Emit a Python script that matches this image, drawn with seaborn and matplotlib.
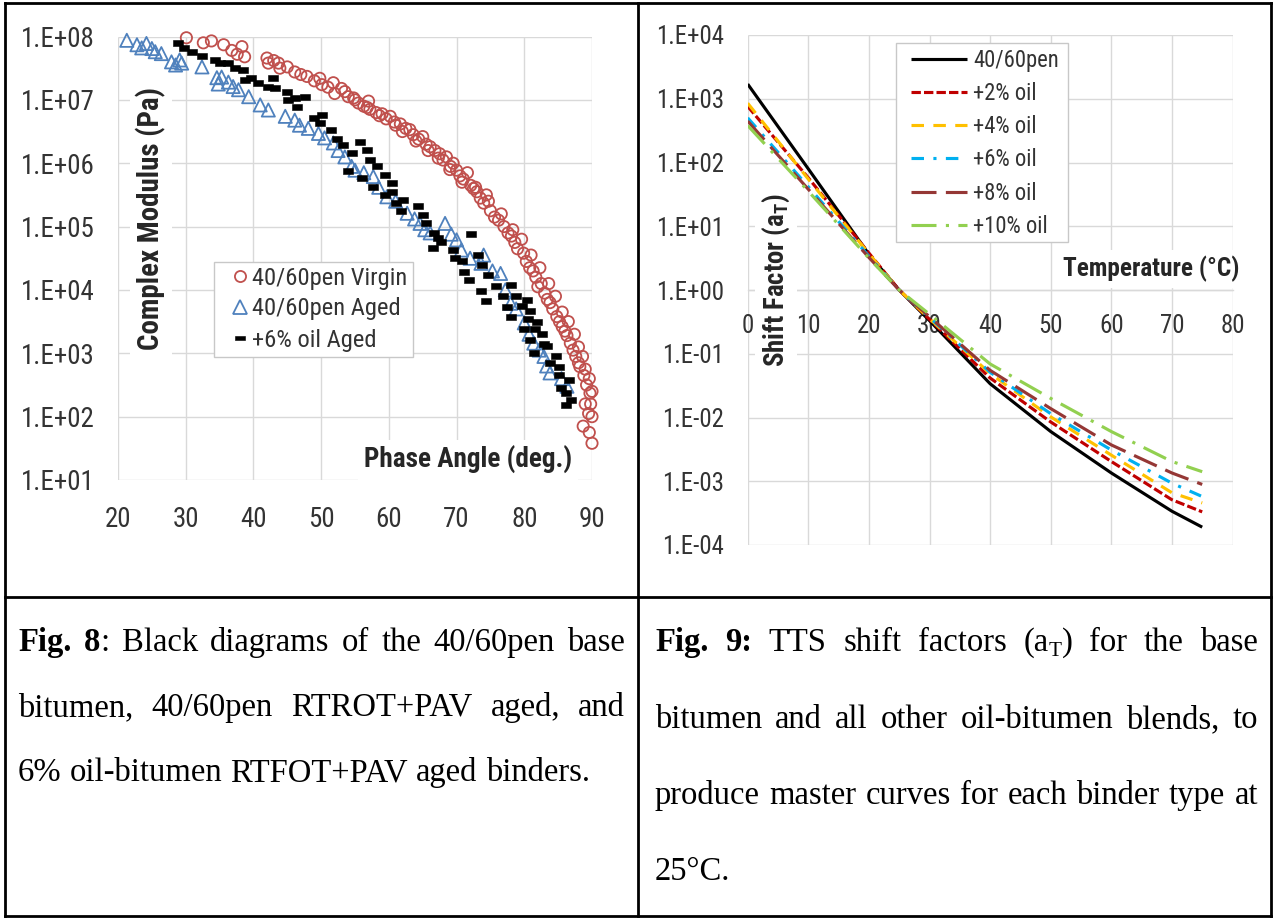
import numpy as np
import pandas as pd
import matplotlib
matplotlib.use("Agg")
import matplotlib.pyplot as plt
import seaborn as sns
from matplotlib import font_manager
from matplotlib.lines import Line2D
from matplotlib.patches import Rectangle
from matplotlib.ticker import FixedLocator, FuncFormatter, NullLocator

# ---------------------------------------------------------------- Fig. 8 data
# Black diagram: phase angle (deg) and log10 of complex modulus (Pa)
virgin_phase = [30.1, 32.6, 33.8, 35.6, 36.8, 37.6, 38.3, 38.7, 42.0, 42.2, 43.0, 43.7,
                43.9, 45.0, 46.1, 47.0, 47.9, 49.0, 49.8, 50.1, 51.0, 51.8, 52.0, 53.5,
                54.0, 54.8, 55.5, 56.3, 57.0, 57.2, 58.1, 59.0, 59.6, 60.2, 61.0, 61.7,
                62.5, 63.1, 63.6, 64.4, 65.0, 65.5, 66.1, 66.8, 67.5, 68.0, 68.5, 69.1,
                69.5, 70.0, 70.5, 71.0, 71.6, 72.1, 72.5, 73.0, 73.5, 74.0, 74.4, 75.0,
                75.6, 76.2, 77.0, 77.6, 78.1, 78.6, 79.0, 79.9, 80.3, 80.8, 81.3, 81.7,
                82.0, 82.5, 83.0, 83.4, 83.8, 84.2, 84.8, 85.2, 85.6, 86.0, 86.3, 86.8,
                87.2, 87.6, 88.0, 88.2, 88.8, 89.2, 89.7, 89.0, 89.5, 88.7, 89.6, 90.0,
                53.0, 55.0, 56.8, 58.6, 60.8, 62.0, 64.0, 65.8, 67.3, 69.0, 70.8, 72.8,
                74.7, 76.6, 78.3, 79.6, 81.0, 82.3, 83.6, 84.6, 85.6, 86.5, 87.4, 88.0,
                88.6, 89.0, 89.6, 90.0, 89.8, 90.0]
virgin_logG = [7.98, 7.90, 7.93, 7.87, 7.78, 7.72, 7.84, 7.68, 7.66, 7.58, 7.62, 7.58,
               7.50, 7.52, 7.44, 7.40, 7.37, 7.30, 7.34, 7.24, 7.20, 7.27, 7.10, 7.13,
               7.05, 7.03, 6.95, 6.90, 6.98, 6.85, 6.80, 6.78, 6.70, 6.74, 6.60, 6.62,
               6.55, 6.53, 6.45, 6.38, 6.42, 6.30, 6.26, 6.20, 6.15, 6.05, 6.10, 5.95,
               6.00, 5.89, 5.80, 5.75, 5.85, 5.65, 5.60, 5.55, 5.45, 5.37, 5.50, 5.25,
               5.15, 5.10, 5.00, 4.90, 4.85, 4.75, 4.65, 4.58, 4.45, 4.35, 4.30, 4.20,
               4.05, 4.10, 3.95, 3.85, 3.80, 3.70, 3.58, 3.50, 3.42, 3.35, 3.28, 3.16,
               3.05, 2.95, 2.85, 2.79, 2.65, 2.50, 2.37, 2.20, 2.05, 1.85, 1.75, 1.58,
               7.18, 7.00, 6.88, 6.75, 6.65, 6.50, 6.35, 6.20, 6.08, 5.90, 5.70, 5.62,
               5.40, 5.20, 4.95, 4.80, 4.55, 4.35, 4.10, 3.90, 3.65, 3.50, 3.30, 3.10,
               2.95, 2.75, 2.60, 2.40, 2.20, 2.00]

aged_phase = [21.3, 22.8, 23.5, 24.2, 25.0, 25.5, 26.4, 27.9, 28.5, 29.1, 29.4, 32.4,
              34.6, 35.3, 34.8, 36.3, 37.0, 37.8, 39.3, 41.0, 42.2, 44.7, 46.1, 46.8,
              48.1, 49.6, 50.5, 51.8, 52.5, 53.5, 54.5, 55.0, 56.3, 57.7, 58.5, 59.7,
              61.0, 62.7, 63.8, 64.6, 65.3, 66.1, 68.3, 69.2, 70.0, 70.7, 72.0, 73.6,
              74.0, 75.3, 76.5, 77.2, 78.0, 78.8, 80.0, 80.7, 81.4, 82.2, 82.9, 83.3,
              83.8, 85.5, 86.3]
aged_logG = [7.94, 7.87, 7.82, 7.89, 7.81, 7.76, 7.73, 7.60, 7.55, 7.63, 7.58, 7.52,
             7.35, 7.36, 7.25, 7.28, 7.21, 7.16, 7.05, 6.92, 6.84, 6.74, 6.68, 6.60,
             6.55, 6.47, 6.40, 6.32, 6.20, 6.10, 5.95, 5.89, 5.85, 5.79, 5.62, 5.47,
             5.40, 5.21, 5.12, 5.05, 4.95, 4.90, 5.05, 4.88, 4.79, 4.63, 4.50, 4.42,
             4.55, 4.30, 4.26, 4.00, 3.79, 3.70, 3.48, 3.30, 3.16, 3.05, 2.95, 2.80,
             2.69, 2.60, 2.48]

oil6_phase = [28.9, 29.7, 30.9, 32.4, 34.3, 35.1, 36.3, 37.3, 38.5, 38.8, 39.7, 40.7,
              42.2, 43.2, 42.9, 44.9, 45.1, 46.1, 46.4, 47.6, 48.9, 50.1, 49.8, 51.5,
              52.3, 53.3, 54.5, 54.0, 55.8, 56.7, 57.2, 56.0, 57.7, 58.2, 59.4, 59.4,
              60.4, 60.4, 61.1, 62.1, 61.8, 64.3, 65.0, 65.5, 66.7, 67.2, 67.7, 66.5,
              69.4, 69.7, 72.1, 73.1, 70.8, 71.1, 71.8, 73.8, 74.6, 73.6, 74.3, 75.8,
              78.0, 76.8, 77.5, 78.0, 78.8, 79.7, 80.4, 80.9, 80.6, 79.9, 81.6, 81.9,
              82.6, 80.9, 81.4, 82.9, 83.4, 83.8, 84.7, 85.1, 85.1, 86.6, 85.4, 86.2,
              86.9, 86.2]
oil6_logG = [7.89, 7.82, 7.76, 7.69, 7.63, 7.58, 7.58, 7.50, 7.47, 7.31, 7.34, 7.26,
             7.21, 7.18, 7.34, 7.13, 7.00, 7.03, 6.89, 7.05, 6.71, 6.76, 6.63, 6.53,
             6.39, 6.29, 6.16, 5.87, 6.33, 6.21, 6.05, 5.76, 5.63, 5.95, 5.82, 5.50,
             5.68, 5.55, 5.37, 5.42, 5.24, 5.32, 5.18, 5.05, 4.90, 4.82, 4.76, 4.66,
             4.63, 4.50, 4.88, 4.55, 4.45, 4.29, 4.16, 4.40, 4.24, 3.98, 3.82, 4.06,
             4.08, 3.90, 3.73, 3.57, 3.90, 3.75, 3.84, 3.67, 3.54, 3.38, 3.38, 3.50,
             3.31, 3.21, 3.01, 3.15, 3.12, 2.85, 2.96, 2.78, 2.65, 2.58, 2.45, 2.37,
             2.26, 2.19]

black_series = ["40/60pen Virgin", "40/60pen Aged", "+6% oil Aged"]
phase_ticks = [20, 30, 40, 50, 60, 70, 80, 90]
modulus_exponents = [1, 2, 3, 4, 5, 6, 7, 8]

# ---------------------------------------------------------------- Fig. 9 data
# TTS shift factors, log10(aT), reference temperature 25 °C
shift_temp = [0, 10, 20, 25, 30, 40, 50, 60, 70, 75]
shift_base = [3.23, 1.90, 0.56, 0.0, -0.48, -1.47, -2.22, -2.87, -3.47, -3.72]
shift_oil2 = [2.88, 1.76, 0.58, 0.0, -0.46, -1.38, -2.07, -2.69, -3.29, -3.48]
shift_oil4 = [2.93, 1.74, 0.57, 0.0, -0.45, -1.31, -1.99, -2.59, -3.18, -3.34]
shift_oil6 = [2.70, 1.62, 0.53, 0.0, -0.43, -1.29, -1.94, -2.51, -3.03, -3.24]
shift_oil8 = [2.65, 1.58, 0.51, 0.0, -0.42, -1.26, -1.86, -2.43, -2.87, -3.05]
shift_oil10 = [2.58, 1.55, 0.50, 0.0, -0.38, -1.16, -1.70, -2.22, -2.69, -2.85]
shift_names = ["40/60pen", "+2% oil", "+4% oil", "+6% oil", "+8% oil", "+10% oil"]
temp_ticks = [0, 10, 20, 30, 40, 50, 60, 70, 80]
shift_exponents = [-4, -3, -2, -1, 0, 1, 2, 3, 4]

# ---------------------------------------------------------------- styling
W, H = 1274, 919
sns.set_style("white")
available = {f.name for f in font_manager.fontManager.ttflist}
SANS = "Liberation Sans"
for cand in ["Liberation Sans Narrow", "Arial Narrow", "Roboto Condensed",
             "Open Sans Condensed", "Noto Sans Condensed"]:
    if cand in available:
        SANS = cand
        break
SERIF = "Liberation Serif"
plt.rcParams["font.family"] = [SANS, "DejaVu Sans"]
plt.rcParams["mathtext.fontset"] = "custom"
plt.rcParams["mathtext.rm"] = SANS
plt.rcParams["mathtext.bf"] = SANS + ":bold"
plt.rcParams["lines.solid_capstyle"] = "butt"
plt.rcParams["lines.dash_capstyle"] = "butt"

GRID = "#D9D9D9"
FRAME = "#C8C8C8"
TICKC = "#333333"
RED, BLUE = "#C0504D", "#4F81BD"
line_colors = ["#000000", "#C00000", "#FFC000", "#00B0F0", "#953735", "#92D050"]
line_styles = ["-", (0, (3, 1)), (0, (4, 3)), (0, (4, 3, 1, 3)), (0, (8, 3)), (0, (8, 3, 1, 3))]
dash_marker = [(-1, -0.48), (1, -0.48), (1, 0.48), (-1, 0.48), (-1, -0.48)]


def fx(x):
    return x / W


def fy(y):
    return 1 - y / H


def sci_label(v, pos):
    return "1.E{:+03d}".format(int(round(np.log10(v))))


fig = plt.figure(figsize=(W / 100, H / 100), dpi=100)
fig.patch.set_facecolor("white")
renderer = fig.canvas.get_renderer()


def text_extent(s, **kw):
    t = fig.text(0, 0, s, **kw)
    bb = t.get_window_extent(renderer=renderer)
    t.remove()
    return bb.width, bb.height


def text_width(s, **kw):
    return text_extent(s, **kw)[0]


# font scale so that label widths suit the narrow chart lettering
K = 1.04 * 70.6 / text_width("1.E+08", family=SANS, fontsize=19.4)
KB = 1.03 * 202.0 / text_width("Phase Angle (deg.)", family=SANS, fontsize=19.7,
                               fontweight="bold")

# ---------------------------------------------------------------- Fig. 8 axes
ax1 = fig.add_axes([fx(118), fy(480), (592 - 118) / W, (480 - 36.5) / H])
df_virgin = pd.DataFrame({"phase": virgin_phase, "G": np.power(10.0, virgin_logG)})
df_aged = pd.DataFrame({"phase": aged_phase, "G": np.power(10.0, aged_logG)})
df_oil6 = pd.DataFrame({"phase": oil6_phase, "G": np.power(10.0, oil6_logG)})

sns.scatterplot(data=df_virgin, x="phase", y="G", ax=ax1, marker="o", s=66,
                facecolor="none", edgecolor=RED, linewidth=1.3, legend=False,
                zorder=3, clip_on=False)
sns.scatterplot(data=df_aged, x="phase", y="G", ax=ax1, marker="^", s=90,
                facecolor="none", edgecolor=BLUE, linewidth=1.3, legend=False,
                zorder=3, clip_on=False)
sns.scatterplot(data=df_oil6, x="phase", y="G", ax=ax1, marker=dash_marker, s=62,
                facecolor="black", edgecolor="black", linewidth=0.4, legend=False,
                zorder=4, clip_on=False)

ax1.set_yscale("log")
ax1.set_xlim(phase_ticks[0], phase_ticks[-1])
ax1.set_ylim(10.0 ** modulus_exponents[0], 10.0 ** modulus_exponents[-1])
ax1.xaxis.set_major_locator(FixedLocator(phase_ticks))
ax1.yaxis.set_major_locator(FixedLocator([10.0 ** e for e in modulus_exponents]))
ax1.yaxis.set_minor_locator(NullLocator())
ax1.yaxis.set_major_formatter(FuncFormatter(sci_label))
ax1.xaxis.set_major_formatter(FuncFormatter(lambda v, p: f"{v:.0f}"))
ax1.set_xlabel("")
ax1.set_ylabel("")
ax1.grid(True, color=GRID, lw=1.0)
ax1.set_axisbelow(True)
for sp in ax1.spines.values():
    sp.set_visible(False)
ax1.tick_params(axis="y", length=0, pad=17, labelsize=19.4 * K, colors=TICKC)
ax1.tick_params(axis="x", length=0, pad=19, labelsize=19.4 * K, colors=TICKC)
ax1.patch.set_alpha(0)

# ---------------------------------------------------------------- Fig. 9 axes
ax2 = fig.add_axes([fx(747.7), fy(545), (1232.5 - 747.7) / W, (545 - 35) / H])
shift_sets = [shift_base, shift_oil2, shift_oil4, shift_oil6, shift_oil8, shift_oil10]
for name, vals, col, ls in zip(shift_names, shift_sets, line_colors, line_styles):
    sns.lineplot(x=shift_temp, y=np.power(10.0, vals), ax=ax2, color=col, lw=2.25,
                 linestyle=ls, legend=False, errorbar=None, sort=False, zorder=3)

ax2.set_yscale("log")
ax2.set_xlim(temp_ticks[0], temp_ticks[-1])
ax2.set_ylim(10.0 ** shift_exponents[0], 10.0 ** shift_exponents[-1])
ax2.xaxis.set_major_locator(FixedLocator(temp_ticks))
ax2.yaxis.set_major_locator(FixedLocator([10.0 ** e for e in shift_exponents]))
ax2.yaxis.set_minor_locator(NullLocator())
ax2.yaxis.set_major_formatter(FuncFormatter(sci_label))
ax2.xaxis.set_major_formatter(FuncFormatter(lambda v, p: f"{v:.0f}"))
ax2.set_xlabel("")
ax2.set_ylabel("")
ax2.grid(True, color=GRID, lw=1.0)
ax2.set_axisbelow(True)
for key, sp in ax2.spines.items():
    sp.set_visible(key == "bottom")
ax2.spines["bottom"].set_position(("data", 1.0))
ax2.spines["bottom"].set_color(GRID)
ax2.spines["bottom"].set_linewidth(1.0)
ax2.tick_params(axis="y", length=0, pad=17, labelsize=17.9 * K, colors=TICKC)
ax2.tick_params(axis="x", length=0, pad=17, labelsize=17.9 * K, colors=TICKC)
ax2.patch.set_alpha(0)

# ---------------------------------------------------------------- axis titles
title_box = dict(facecolor="white", edgecolor="none", pad=4)
fig.text(fx(151), fy(218), "Complex Modulus (Pa)", rotation=90, ha="center", va="center",
         fontsize=21 * KB, fontweight="bold", bbox=title_box, zorder=2)
fig.text(fx(468), fy(460), "Phase Angle (deg.)", ha="center", va="center",
         fontsize=19.7 * KB, fontweight="bold", bbox=title_box, zorder=2)
fig.text(fx(1151), fy(269), "Temperature (°C)", ha="center", va="center",
         fontsize=18.3 * KB, fontweight="bold", bbox=title_box, zorder=2)
fig.text(fx(776), fy(280), r"Shift Factor (a$_{\mathbf{T}}$)", rotation=90, ha="center",
         va="center", fontsize=19.4 * KB, fontweight="bold", bbox=title_box, zorder=2)


# ---------------------------------------------------------------- legends
def legend_layout(size, pitch_px, first_center, handle_x0, handle_x1, text_x):
    """Spacing and anchor that give the wanted legend geometry for a font size."""
    fs_px = size * 100 / 72
    row_h = text_extent("lp", family=SANS, fontsize=size)[1]
    return dict(fontsize=size,
                labelspacing=(pitch_px - row_h) / fs_px,
                handlelength=(handle_x1 - handle_x0) / fs_px,
                handletextpad=(text_x - handle_x1) / fs_px,
                bbox_to_anchor=(fx(handle_x0), fy(first_center - row_h / 2)))


fig.add_artist(Rectangle((fx(214), fy(357)), (413 - 214) / W, (357 - 262) / H,
                         transform=fig.transFigure, facecolor="white", edgecolor=FRAME,
                         lw=1.0, zorder=2.5))
marker_handles = [
    Line2D([], [], ls="none", marker="o", ms=8, mfc="none", mec=RED, mew=1.3),
    Line2D([], [], ls="none", marker="^", ms=10, mfc="none", mec=BLUE, mew=1.3),
    Line2D([], [], ls="none", marker=dash_marker, ms=7, mfc="black", mec="black", mew=0.4),
]
fig.legend(marker_handles, black_series, loc="upper left", bbox_transform=fig.transFigure,
           frameon=False, borderpad=0, borderaxespad=0, labelcolor=TICKC,
           **legend_layout(17.6 * K, 31, 278, 230, 250, 252))

fig.add_artist(Rectangle((fx(896), fy(242)), (1068 - 896) / W, (242 - 43) / H,
                         transform=fig.transFigure, facecolor="white", edgecolor=FRAME,
                         lw=1.0, zorder=2.5))
line_handles = [Line2D([], [], color=c, lw=2.25, ls=ls) for c, ls in zip(line_colors, line_styles)]
fig.legend(line_handles, shift_names, loc="upper left", bbox_transform=fig.transFigure,
           frameon=False, borderpad=0, borderaxespad=0, labelcolor=TICKC,
           **legend_layout(16.3 * K, 33.3, 60, 911, 967, 973))

# ---------------------------------------------------------------- table rules
rule = dict(color="black", lw=2.0, transform=fig.transFigure, zorder=6,
            solid_capstyle="projecting")
for (x0, y0, x1, y1) in [(5, 3, 1271, 3), (5, 916, 1271, 916), (5, 3, 5, 916),
                         (1271, 3, 1271, 916), (637.5, 3, 637.5, 916), (5, 597, 1271, 597)]:
    fig.add_artist(Line2D([fx(x0), fx(x1)], [fy(y0), fy(y1)], **rule))

# ---------------------------------------------------------------- captions
CAP = 23.5


def parse_words(line):
    """Split a caption line into words made of (text, bold, subscript) runs.
    '*' toggles bold and '~' toggles subscript."""
    words, bold, sub = [], False, False
    for raw in line.split(" "):
        runs, buf = [], ""
        for ch in raw:
            if ch in "*~":
                if buf:
                    runs.append((buf, bold, sub))
                    buf = ""
                if ch == "*":
                    bold = not bold
                else:
                    sub = not sub
            else:
                buf += ch
        if buf:
            runs.append((buf, bold, sub))
        if runs:
            words.append(runs)
    return words


def run_kwargs(bold, sub):
    return dict(family=SERIF, fontsize=CAP * (0.65 if sub else 1.0),
                fontweight="bold" if bold else "normal", color="black")


def run_width(text, bold, sub):
    return text_width(text, **run_kwargs(bold, sub))


space_w = run_width("a a", False, False) - run_width("aa", False, False)


def draw_caption(line, x0, x1, baseline, justify):
    words = parse_words(line)
    widths = [[run_width(*r) for r in w] for w in words]
    total = sum(sum(w) for w in widths)
    gap = (x1 - x0 - total) / (len(words) - 1) if justify and len(words) > 1 else space_w
    x = x0
    for runs, ws in zip(words, widths):
        for (text, bold, sub), w in zip(runs, ws):
            dy = CAP * 100 / 72 * 0.14 if sub else 0.0
            fig.text(fx(x), fy(baseline + dy), text, ha="left", va="baseline",
                     **run_kwargs(bold, sub))
            x += w
        x += gap


caption8 = ["*Fig. 8*: Black diagrams of the 40/60pen base",
            "bitumen, 40/60pen RTROT+PAV aged, and",
            "6% oil-bitumen RTFOT+PAV aged binders."]
caption9 = ["*Fig. 9:* TTS shift factors (a~T~) for the base",
            "bitumen and all other oil-bitumen blends, to",
            "produce master curves for each binder type at",
            "25°C."]
left_baselines = [651, 716, 781]
right_baselines = [651, 728, 804, 880]
for i, line in enumerate(caption8):
    draw_caption(line, 18, 625, left_baselines[i], justify=i < len(caption8) - 1)
for i, line in enumerate(caption9):
    draw_caption(line, 655, 1258, right_baselines[i], justify=i < len(caption9) - 1)

fig.savefig("out.png", dpi=100, facecolor="white")
